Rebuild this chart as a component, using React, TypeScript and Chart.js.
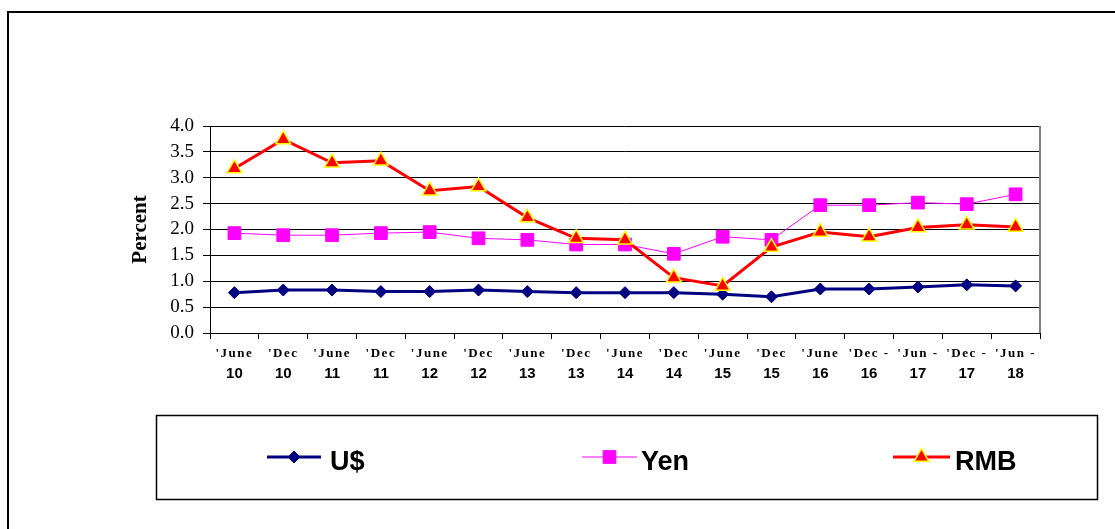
import React, { useEffect, useRef } from 'react';
import { Chart, registerables } from 'chart.js';
import { drawPoint } from 'chart.js/helpers';

Chart.register(...registerables);

const monthLabels = ["'June", "'Dec", "'June", "'Dec", "'June", "'Dec", "'June", "'Dec", "'June", "'Dec", "'June", "'Dec", "'June", "'Dec -", "'Jun -", "'Dec -", "'Jun -"];
const yearLabels = ["10", "10", "11", "11", "12", "12", "13", "13", "14", "14", "15", "15", "16", "16", "17", "17", "18"];
const categories = monthLabels.map((m, i) => `${m} ${yearLabels[i]}`);

const usdValues = [0.78, 0.83, 0.83, 0.80, 0.80, 0.83, 0.80, 0.78, 0.78, 0.78, 0.75, 0.70, 0.85, 0.85, 0.89, 0.93, 0.91];
const yenValues = [1.93, 1.89, 1.89, 1.93, 1.95, 1.83, 1.80, 1.71, 1.71, 1.53, 1.86, 1.80, 2.47, 2.47, 2.52, 2.49, 2.68];
const rmbValues = [3.18, 3.74, 3.29, 3.33, 2.75, 2.83, 2.23, 1.83, 1.80, 1.07, 0.91, 1.66, 1.95, 1.86, 2.04, 2.09, 2.05];

const seriesNames = ['U$', 'Yen', 'RMB'];
const yMin = 0;
const yMax = 4;
const yStep = 0.5;
const yTitle = 'Percent';

const W = 1115;
const H = 529;

const framePlugin = {
  id: 'frame',
  beforeDraw(chart: any) {
    const ctx = chart.ctx;
    ctx.save();
    ctx.fillStyle = '#fff';
    ctx.fillRect(0, 0, W, H);
    ctx.strokeStyle = '#000';
    ctx.lineWidth = 2;
    ctx.beginPath();
    ctx.moveTo(W + 5, 12);
    ctx.lineTo(8, 12);
    ctx.lineTo(8, H + 5);
    ctx.stroke();
    ctx.restore();
  },
  beforeDatasetsDraw(chart: any) {
    const { ctx, chartArea } = chart;
    ctx.save();
    ctx.strokeStyle = '#808080';
    ctx.lineWidth = 2;
    ctx.beginPath();
    ctx.moveTo(chartArea.right, chartArea.top);
    ctx.lineTo(chartArea.right, chartArea.bottom);
    ctx.stroke();
    ctx.restore();
  },
};

const xLabelPlugin = {
  id: 'xLabels',
  afterDraw(chart: any) {
    const { ctx } = chart;
    const xs = chart.scales.x;
    ctx.save();
    ctx.fillStyle = '#000';
    ctx.textAlign = 'center';
    ctx.textBaseline = 'middle';
    monthLabels.forEach((m, i) => {
      const x = xs.getPixelForValue(i);
      ctx.font = 'bold 13px "Liberation Serif"';
      (ctx as any).letterSpacing = '1.5px';
      ctx.fillText(m, x, 354);
      (ctx as any).letterSpacing = '0px';
      ctx.font = 'bold 15px "Liberation Sans"';
      ctx.fillText(yearLabels[i], x, 374);
    });
    ctx.restore();
  },
};

const legendPlugin = {
  id: 'boxLegend',
  afterDraw(chart: any) {
    const { ctx } = chart;
    ctx.save();
    ctx.strokeStyle = '#000';
    ctx.lineWidth = 1.5;
    ctx.strokeRect(156.5, 415.5, 941, 84);
    const slots = [
      { x0: 267, x1: 321, tx: 330 },
      { x0: 582, x1: 637, tx: 641 },
      { x0: 893, x1: 950, tx: 955 },
    ];
    const cy = 457;
    chart.data.datasets.forEach((ds: any, i: number) => {
      const s = slots[i];
      ctx.strokeStyle = ds.borderColor;
      ctx.lineWidth = ds.borderWidth;
      ctx.beginPath();
      ctx.moveTo(s.x0, cy);
      ctx.lineTo(s.x1, cy);
      ctx.stroke();
      ctx.fillStyle = ds.pointBackgroundColor;
      ctx.strokeStyle = ds.pointBorderColor;
      ctx.lineWidth = ds.pointBorderWidth;
      drawPoint(ctx, { pointStyle: ds.pointStyle, radius: ds.pointRadius, borderWidth: ds.pointBorderWidth, rotation: 0 } as any, (s.x0 + s.x1) / 2, cy);
      ctx.fillStyle = '#000';
      ctx.font = 'bold 27px "Liberation Sans"';
      ctx.textAlign = 'left';
      ctx.textBaseline = 'alphabetic';
      ctx.fillText(ds.label, s.tx, 470);
    });
    ctx.restore();
  },
};

export default function App() {
  const ref = useRef<HTMLCanvasElement>(null);
  useEffect(() => {
    if (!ref.current) return;
    const chart = new Chart(ref.current, {
      type: 'line',
      data: {
        labels: categories,
        datasets: [
          {
            label: seriesNames[0],
            data: usdValues,
            borderColor: '#000080',
            backgroundColor: '#000080',
            borderWidth: 3,
            pointStyle: 'rectRot',
            pointRadius: 6,
            pointBackgroundColor: '#000080',
            pointBorderColor: '#000080',
            pointBorderWidth: 1,
            tension: 0,
            order: 2,
          },
          {
            label: seriesNames[1],
            data: yenValues,
            borderColor: '#FF00FF',
            backgroundColor: '#FF00FF',
            borderWidth: 1,
            pointStyle: 'rect',
            pointRadius: 9,
            pointBackgroundColor: '#FF00FF',
            pointBorderColor: '#FF00FF',
            pointBorderWidth: 1,
            tension: 0,
            order: 1,
          },
          {
            label: seriesNames[2],
            data: rmbValues,
            borderColor: '#FF0000',
            backgroundColor: '#FF0000',
            borderWidth: 3,
            pointStyle: 'triangle',
            pointRadius: 8.5,
            pointBackgroundColor: '#FF0000',
            pointBorderColor: '#FFFF00',
            pointBorderWidth: 1.5,
            tension: 0,
            order: 0,
          },
        ] as any,
      },
      options: {
        animation: false,
        responsive: false,
        maintainAspectRatio: false,
        devicePixelRatio: 1,
        clip: false as any,
        layout: { padding: { left: 128, right: 75, top: 126, bottom: 156 } },
        plugins: { legend: { display: false }, tooltip: { enabled: false } },
        scales: {
          x: {
            type: 'category',
            offset: true,
            grid: { offset: true, drawOnChartArea: false, tickLength: 6, color: '#000', lineWidth: 1 },
            border: { color: '#000', width: 1 },
            ticks: { display: false },
            afterFit: (s: any) => { s.height = 40; },
          },
          y: {
            min: yMin,
            max: yMax,
            ticks: {
              stepSize: yStep,
              padding: 9,
              color: '#000',
              font: { family: 'Liberation Serif', size: 19 },
              callback: (v: any) => Number(v).toFixed(1),
            },
            grid: { color: '#000', lineWidth: 1, tickLength: 7 },
            border: { color: '#000', width: 1 },
            title: {
              display: true,
              text: yTitle,
              color: '#000',
              font: { family: 'Liberation Serif', size: 21, weight: 'bold' },
              padding: { top: 0, bottom: 0 },
            },
            afterFit: (s: any) => { s.width = 82; },
          },
        },
      },
      plugins: [framePlugin, xLabelPlugin, legendPlugin],
    });
    return () => chart.destroy();
  }, []);
  return (
    <div style={{ position: 'fixed', left: 0, top: 0, width: W, height: H, background: '#fff' }}>
      <canvas ref={ref} width={W} height={H} style={{ width: W, height: H, display: 'block' }} />
    </div>
  );
}
